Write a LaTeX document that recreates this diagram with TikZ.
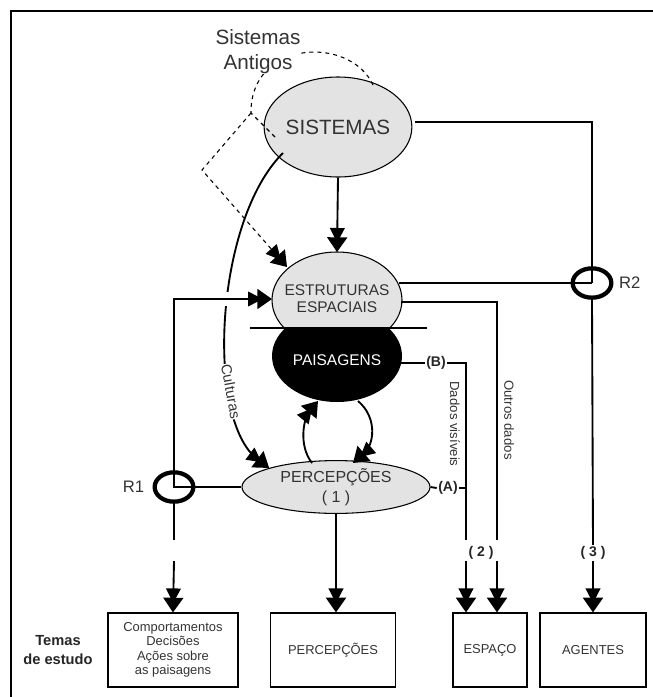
\documentclass[tikz,border=0pt]{standalone}
\usepackage{fontspec}
\setmainfont{Liberation Sans}
\usetikzlibrary{arrows.meta,positioning,shapes.geometric}

\tikzset{
  elip/.style={ellipse, draw, fill=gray!22, line width=0.8pt, text=black!80, inner sep=0pt, align=center},
  anel/.style={ellipse, draw, line width=3.2pt, minimum width=29pt, minimum height=22pt, inner sep=0pt},
  tema/.style={draw, line width=0.9pt, align=center, text=black!80, inner sep=0pt, font=\fontsize{9.7}{10.9}\selectfont},
  lig/.style={line width=1.4pt},
  ponta/.tip={Triangle[width=11pt,length=11pt,sep=-4pt]Triangle[width=15pt,length=11pt]},
  seta/.style={line width=1.4pt, -ponta},
  rot/.style={text=black!80, inner sep=1pt},
  neg/.style={font=\bfseries\fontsize{10.5}{12}\selectfont, text=black!85, inner sep=1pt}
}

\begin{document}
\begin{tikzpicture}[x=0.75pt, y=-0.75pt]
        \useasboundingbox (0,0) rectangle (653,697);
        \draw[line width=1.5pt] (11,697) -- (11,11) -- (653,11);

        % estruturas / paisagens
        \begin{scope}
          \clip (250,240) rectangle (430,328);
          \draw[fill=gray!22, line width=0.8pt] (337,300) ellipse [x radius=65, y radius=48];
        \end{scope}
        \begin{scope}
          \clip (250,328) rectangle (430,420);
          \fill (337,356) ellipse [x radius=65, y radius=46];
        \end{scope}
        \draw[line width=1.2pt] (250,328) -- (427,328);

        \node[elip, minimum width=96pt, minimum height=75pt, font=\fontsize{15.5}{18}\selectfont] (Sist) at (338,127) {SISTEMAS};
        \node[align=center, text=black!80, font=\fontsize{11.6}{12.75}\selectfont] (Estr) at (337,299) {ESTRUTURAS\\ESPACIAIS};
        \node[text=white, font=\fontsize{11.6}{13}\selectfont] (Pais) at (337,360) {PAISAGENS};
        \node[elip, minimum width=141pt, minimum height=37.5pt, font=\fontsize{12}{15}\selectfont] (Perc) at (336,487) {PERCEPÇÕES\\( 1 )};

        \node[anel] (R1) at (174,487) {};
        \node[anel] (R2) at (592,283) {};
        \node[rot, left=5pt of R1, font=\fontsize{12.5}{14}\selectfont] {R1};
        \node[rot, right=3pt of R2, font=\fontsize{12.5}{14}\selectfont] {R2};

        \node[neg] (B) at (436,363) {(B)};
        \node[neg] (A) at (448,488) {(A)};
        \node[neg] (N2) at (481,553) {( 2 )};
        \node[neg] (N3) at (593,553) {( 3 )};

        \node[tema, minimum width=97.5pt, minimum height=55.5pt] (Comp) at (173,650) {Comportamentos\\Decisões\\Ações sobre\\as paisagens};
        \node[tema, minimum width=93.75pt, minimum height=55.5pt] (PercB) at (333,650) {PERCEPÇÕES};
        \node[tema, minimum width=55.5pt, minimum height=55.5pt] (Espaco) at (490,650) {ESPAÇO};
        \node[tema, minimum width=79.5pt, minimum height=55.5pt] (Agentes) at (593,650) {AGENTES};
        \node[align=center, font=\bfseries\fontsize{11}{14.25}\selectfont, text=black!85] (Temas) at (58,650) {Temas\\de estudo};

        \coordinate (EstrT) at (337,252);
        \coordinate (EstrL) at (272,299);
        \coordinate (EstrR1) at (399,283);
        \coordinate (EstrR2) at (401,302);
        \coordinate (EstrD) at (287,267);
        \coordinate (PaisR) at (401,363);
        \coordinate (PaisBL) at (318,401);
        \coordinate (PaisBR) at (358,401);
        \coordinate (PercTL) at (312,463);
        \coordinate (PercTR) at (353,463);
        \coordinate (SistE) at (415,122);
        \coordinate (SistT) at (373,85);
        \coordinate (SistW) at (276,138);
        \coordinate (SistSW) at (283,153);
        \coordinate (Ant) at (251,113);
        \coordinate (Dob) at (202,170);
        \coordinate (Dv) at (466,540);
        \coordinate (Od) at (497,540);
        \coordinate (R1b) at (174,540);

        % sistemas antigos
        \draw[line width=0.8pt, dash pattern=on 3pt off 3pt] (SistT) .. controls (350,35) and (250,40) .. (Ant) -- (SistW);
        \draw[line width=0.8pt, dash pattern=on 3pt off 3pt, -ponta] (Ant) -- (Dob) -- (EstrD);
        \node[align=center, text=black!80, fill=white, inner sep=0pt, font=\fontsize{15.5}{18.75}\selectfont] (Antigos) at (258,52) {Sistemas\\Antigos};

        \draw[seta] (Sist.south) -- (EstrT);
        \draw[seta] (SistSW) .. controls (215,220) and (205,420) .. (Perc.north west)
          node[rot, pos=0.7, sloped, fill=white, inner sep=0.5pt, font=\fontsize{11}{13}\selectfont] (Cult) {Culturas};

        \draw[white, line width=11pt] (214,299) -- (238,299);
        \draw[seta] (Perc.west) -- (R1.center) |- (EstrL);
        \draw[lig] (R1.south) -- (R1b);
        \draw[seta] (R1b |- N2.south) -- (Comp.north);

        \draw[seta] (PercTL) .. controls (298,445) and (304,418) .. (PaisBL);
        \draw[seta] (PaisBR) .. controls (378,418) and (374,445) .. (PercTR);

        \draw[lig] (SistE) -| (R2.center);
        \draw[lig] (EstrR1) -- (R2.center);
        \draw[lig] (R2.south) -- (N3.north);
        \draw[seta] (N3.south) -- (Agentes.north);

        \draw[lig] (EstrR2) -| (Od);
        \draw[lig] (PaisR) -- (B.west);
        \draw[lig] (B.east) -| (Dv);
        \draw[lig] (Perc.east) -- (A.west);
        \draw[lig] (A.east) -- (A.east -| Dv);
        \draw[seta] (Dv |- N2.south) -- (Dv |- Espaco.north);
        \draw[seta] (Od |- N2.south) -- (Od |- Espaco.north);
        \draw[seta] (Perc.south) -- (Perc.south |- PercB.north);

        \node[rot, rotate=-90, font=\fontsize{9.9}{12}\selectfont] (Dados) at (455,424) {Dados visíveis};
        \node[rot, rotate=-90, font=\fontsize{9.9}{12}\selectfont] (Outros) at (509,420) {Outros dados};
\end{tikzpicture}
\end{document}
